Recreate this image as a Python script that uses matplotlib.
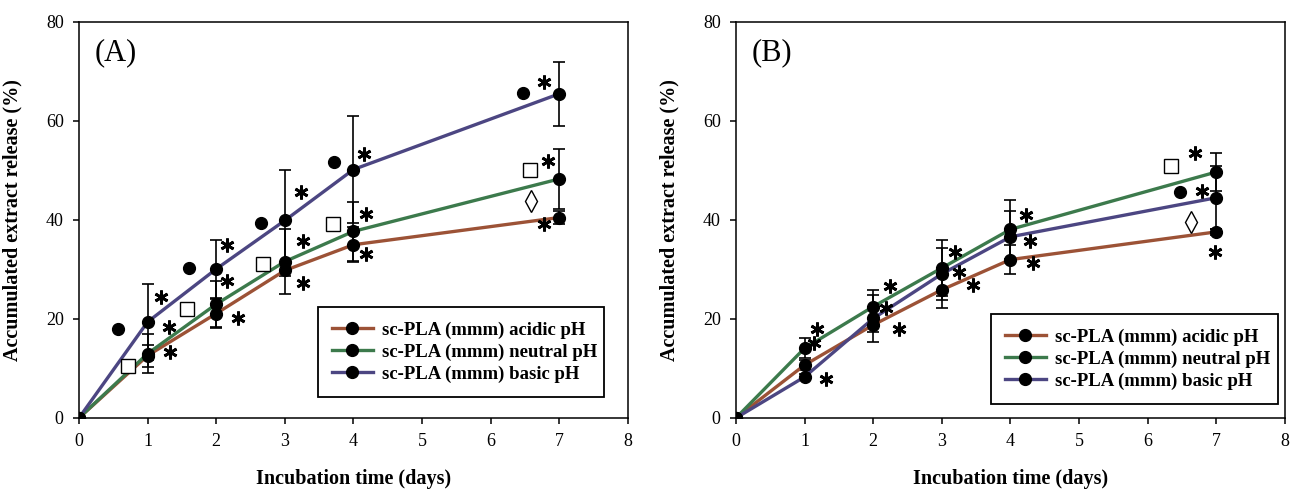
import numpy as np
import matplotlib.pyplot as plt
from matplotlib.lines import Line2D

plt.rcParams['font.family'] = ['Liberation Serif', 'DejaVu Serif']

days = [0, 1, 2, 3, 4, 7]
labels = ['sc-PLA (mmm) acidic pH', 'sc-PLA (mmm) neutral pH',
          'sc-PLA (mmm) basic pH']
colors = ['#9c5236', '#3c7a4c', '#4c4682']

# panel A
a_acid = [0, 12.6, 21.1, 29.8, 35.0, 40.5]
a_acid_err = [0, 2.2, 3.0, 1.2, 3.5, 1.3]
a_neut = [0, 13.0, 23.0, 31.6, 37.7, 48.3]
a_neut_err = [0, 4.0, 4.6, 6.5, 6.0, 6.0]
a_basic = [0, 19.4, 30.1, 39.9, 50.2, 65.5]
a_basic_err = [0, 7.7, 5.9, 10.1, 10.8, 6.5]
a_star_x = [1.19, 1.31, 1.32, 2.16, 2.16, 2.32, 3.24, 3.27, 3.27,
            4.16, 4.18, 4.18, 6.78, 6.83, 6.78]
a_star_y = [24.4, 18.4, 13.3, 35.0, 27.6, 20.2, 45.7, 35.8, 27.3,
            53.4, 41.3, 33.2, 67.9, 51.9, 39.1]
a_dot_x = [0.57, 1.61, 2.65, 3.71, 6.47]
a_dot_y = [17.9, 30.4, 39.4, 51.7, 65.7]
a_sq_x = [0.72, 1.58, 2.68, 3.70, 6.57]
a_sq_y = [10.6, 22.1, 31.2, 39.1, 50.0]
a_dia_x = [6.59]
a_dia_y = [43.8]

# panel B
b_acid = [0, 10.7, 18.8, 25.9, 32.0, 37.6]
b_acid_err = [0, 1.0, 1.4, 3.7, 2.9, 0.6]
b_neut = [0, 14.1, 22.5, 30.3, 38.1, 49.7]
b_neut_err = [0, 2.0, 3.4, 5.7, 5.9, 3.8]
b_basic = [0, 8.3, 20.1, 29.1, 36.6, 44.5]
b_basic_err = [0, 0.5, 4.8, 5.3, 5.2, 6.4]
b_star_x = [1.18, 1.14, 1.31, 2.25, 2.19, 2.37, 3.19, 3.25, 3.46,
            4.23, 4.28, 4.33, 6.69, 6.79, 6.98]
b_star_y = [17.9, 15.1, 7.8, 26.6, 22.2, 17.9, 33.5, 29.4, 26.9,
            41.1, 35.7, 31.4, 53.6, 45.8, 33.5]
b_dot_x = [6.47]
b_dot_y = [45.6]
b_sq_x = [6.34]
b_sq_y = [51.0]
b_dia_x = [6.63]
b_dia_y = [39.6]


def draw(ax, series, errs, stars, dots, squares, diamonds, tag, leg_box):
    for y, e, c in zip(series, errs, colors):
        ax.errorbar(days, y, yerr=e, fmt='none', ecolor='black',
                    elinewidth=1.2, capsize=4.5, capthick=1.2, zorder=2)
        ax.plot(days, y, color=c, linewidth=2.4, zorder=3)
        ax.plot(days, y, 'o', color='black', markersize=8.5, zorder=4)
    ax.plot(stars[0], stars[1], linestyle='none', marker=(6, 2, 0),
            color='black', markersize=10, markeredgewidth=2.0, zorder=5)
    ax.plot(dots[0], dots[1], 'o', color='black', markersize=8.5, zorder=5)
    ax.plot(squares[0], squares[1], 's', mfc='white', mec='black',
            markersize=10, mew=1.0, zorder=5)
    ax.plot(diamonds[0], diamonds[1], 'd', mfc='white', mec='black',
            markersize=11, mew=1.0, zorder=5)
    ax.text(0.23, 73.8, tag, fontsize=22, ha='left', va='center')

    ax.set_xlim(0, 8)
    ax.set_ylim(0, 80)
    ax.set_xticks(range(0, 9))
    ax.set_yticks(range(0, 81, 20))
    ax.tick_params(direction='out', length=4, width=1.1, labelsize=13, pad=7)
    for s in ax.spines.values():
        s.set_linewidth(1.1)
    ax.set_xlabel('Incubation time (days)', fontsize=14.5, fontweight='bold')
    ax.set_ylabel('Accumulated extract release (%)', fontsize=14.5,
                  fontweight='bold')
    ax.xaxis.set_label_coords(0.5, -0.13)
    ax.yaxis.set_label_coords(-0.103, 0.5)

    handles = [Line2D([], [], color=c, linewidth=2.4, marker='o',
                      markerfacecolor='black', markeredgecolor='black',
                      markersize=8.5) for c in colors]
    leg = ax.legend(handles, labels, loc='lower left', bbox_to_anchor=leg_box,
                    mode='expand', fancybox=False, framealpha=1,
                    edgecolor='black', prop={'size': 13.5, 'weight': 'bold'},
                    handlelength=2.2, labelspacing=0.26, borderpad=0.75,
                    handletextpad=0.5, borderaxespad=0)
    leg.get_frame().set_linewidth(1.3)


fig = plt.figure(figsize=(12.9, 4.91), dpi=100)
ax1 = fig.add_axes([0.0612, 0.1487, 0.4256, 0.8065])
ax2 = fig.add_axes([0.5705, 0.1487, 0.4256, 0.8065])

draw(ax1, [a_acid, a_neut, a_basic], [a_acid_err, a_neut_err, a_basic_err],
     (a_star_x, a_star_y), (a_dot_x, a_dot_y), (a_sq_x, a_sq_y),
     (a_dia_x, a_dia_y), '(A)', (0.435, 0.053, 0.522, 0.2))
draw(ax2, [b_acid, b_neut, b_basic], [b_acid_err, b_neut_err, b_basic_err],
     (b_star_x, b_star_y), (b_dot_x, b_dot_y), (b_sq_x, b_sq_y),
     (b_dia_x, b_dia_y), '(B)', (0.464, 0.035, 0.523, 0.2))

fig.savefig('out.png', dpi=100)
